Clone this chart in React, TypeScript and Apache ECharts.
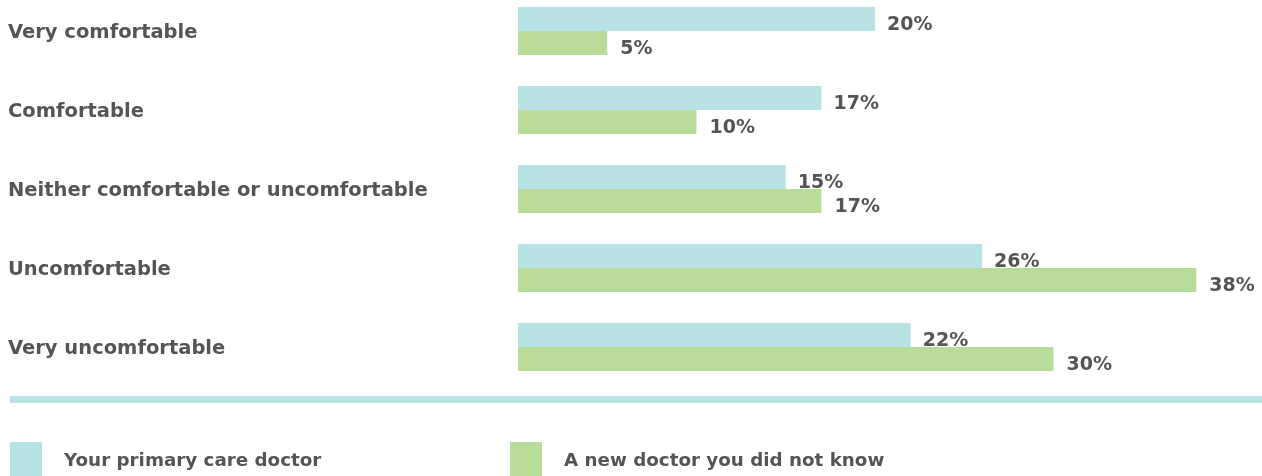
import React, { useEffect, useRef } from "react";
import * as echarts from "echarts";

const categories = [
  "Very comfortable",
  "Comfortable",
  "Neither comfortable or uncomfortable",
  "Uncomfortable",
  "Very uncomfortable",
];
const primaryCare = [20, 17, 15, 26, 22];
const newDoctor = [5, 10, 17, 38, 30];
const seriesNames = ["Your primary care doctor", "A new doctor you did not know"];

const BLUE = "#b8e2e3";
const GREEN = "#b9dc9b";
const TEXT = "#555555";
const FONT = "'DejaVu Sans', sans-serif";
const FS = 19.5;

export default function App() {
  const ref = useRef<HTMLDivElement>(null);
  useEffect(() => {
    if (!ref.current) return;
    const chart = echarts.init(ref.current, undefined, { renderer: "svg" });
    const labelStyle = {
      show: true,
      position: "right",
      formatter: "{c}%",
      color: TEXT,
      fontFamily: FONT,
      fontWeight: "bold",
      fontSize: 19,
      offset: [0, 4],
    };
    const legendText = {
      color: TEXT,
      fontFamily: FONT,
      fontWeight: "bold",
      fontSize: 18.3,
      padding: [0, 0, 0, 17],
    };
    chart.setOption({
      animation: false,
      textStyle: { fontFamily: FONT },
      grid: { left: 518, top: 31, width: 714, height: 316, containLabel: false },
      xAxis: { type: "value", min: 0, max: 40, show: false },
      yAxis: {
        type: "category",
        data: categories,
        inverse: true,
        boundaryGap: false,
        axisLine: { show: false },
        axisTick: { show: false },
        splitLine: { show: false },
        axisLabel: {
          align: "left",
          margin: 510,
          color: TEXT,
          fontFamily: FONT,
          fontWeight: "bold",
          fontSize: FS,
        },
      },
      legend: [
        {
          data: [seriesNames[0]],
          left: 10,
          top: 442,
          icon: "rect",
          itemWidth: 32,
          itemHeight: 34,
          padding: 0,
          textStyle: legendText,
        },
        {
          data: [seriesNames[1]],
          left: 510,
          top: 442,
          icon: "rect",
          itemWidth: 32,
          itemHeight: 34,
          padding: 0,
          textStyle: legendText,
        },
      ],
      graphic: [
        {
          type: "rect",
          left: 10,
          top: 396,
          shape: { width: 1252, height: 7 },
          style: { fill: BLUE },
        },
      ],
      series: [
        {
          name: seriesNames[0],
          type: "bar",
          data: primaryCare,
          barWidth: 24,
          barGap: "0%",
          itemStyle: { color: BLUE },
          label: { ...labelStyle, distance: 12 },
        },
        {
          name: seriesNames[1],
          type: "bar",
          data: newDoctor,
          barWidth: 24,
          barGap: "0%",
          itemStyle: { color: GREEN },
          label: { ...labelStyle, distance: 13 },
        },
      ],
    });
    return () => chart.dispose();
  }, []);
  return (
    <div
      ref={ref}
      style={{ position: "fixed", left: 0, top: 0, width: 1262, height: 476 }}
    />
  );
}
